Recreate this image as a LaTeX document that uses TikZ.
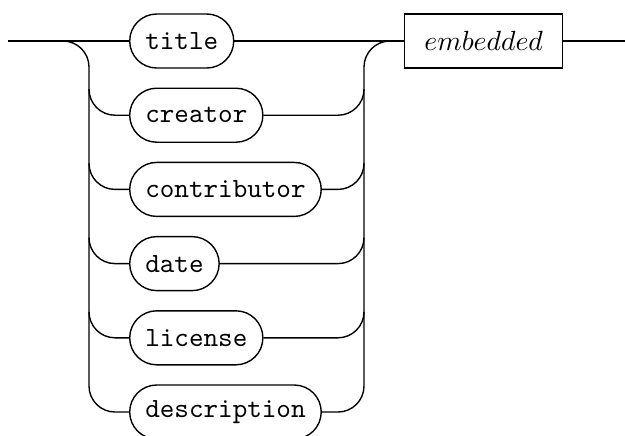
\documentclass[tikz,border=0pt]{standalone}
\usetikzlibrary{calc}
\begin{document}
\begin{tikzpicture}[x=0.36pt,y=-0.36pt,line width=0.5pt,
  term/.style={draw,rounded corners=9.72pt,minimum height=19.44pt,inner xsep=5.6pt,inner ysep=0pt,font=\ttfamily,anchor=west},
  nonterm/.style={draw,minimum height=19.44pt,minimum width=56.9pt,inner ysep=0pt,anchor=west},
  rail/.style={rounded corners=9.36pt}]
\useasboundingbox (0,0) rectangle (625,435);
\node[term] (title) at (129,41) {title};
\node[term] (creator) at (129,115.2) {creator};
\node[term] (contributor) at (129,189.4) {contributor};
\node[term] (date) at (129,263.6) {date};
\node[term] (license) at (129,337.8) {license};
\node[term] (description) at (129,412) {description};
\node[nonterm] (embedded) at (404,41) {$embedded$};
\coordinate (start) at (8,41);
\coordinate (finish) at (625,41);
\coordinate (split) at (63,41);
\coordinate (L) at (89,41);
\coordinate (R) at (364,41);
\draw (start) -- (title.west);
\draw (title.east) -- (embedded.west);
\draw (embedded.east) -- (finish);
\draw[rail] (split) -| (L |- creator.west) -- (creator.west);
\draw[rail] (creator.east) -| (R) -- (embedded.west);
\foreach \p/\n in {creator/contributor,contributor/date,date/license,license/description}{
  \draw[rail] ($(L |- \p.west)+(0,-26)$) -- (L |- \n.west) -- (\n.west);
  \draw[rail] (\n.east) -| ($(R |- \p.east)+(0,-26)$);
}
\end{tikzpicture}
\end{document}
